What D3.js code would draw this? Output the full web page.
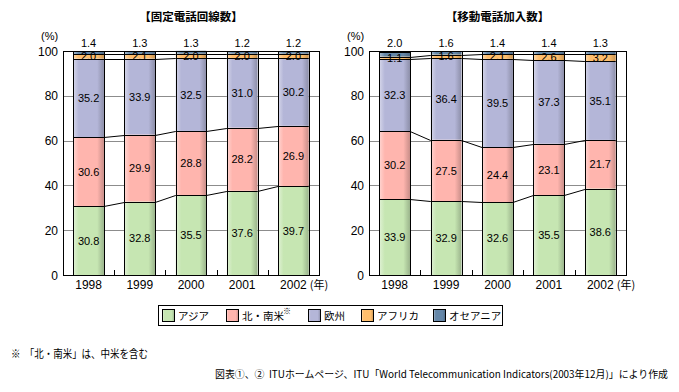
<!DOCTYPE html>
<html><head><meta charset="utf-8">
<script src="https://cdn.jsdelivr.net/npm/d3@7"></script>
<style>body{margin:0;background:#fff}svg{display:block}</style>
</head><body><svg id="c" width="679" height="392"></svg>
<script>
const years = ["1998","1999","2000","2001","2002"];
const regions = ["アジア","北・南米","欧州","アフリカ","オセアニア"];
const yTicks = [0,20,40,60,80,100];
// 固定電話回線数
const fixedAsia = [30.8,32.8,35.5,37.6,39.7];
const fixedAmericas = [30.6,29.9,28.8,28.2,26.9];
const fixedEurope = [35.2,33.9,32.5,31.0,30.2];
const fixedAfrica = [2.0,2.1,2.0,2.0,2.0];
const fixedOceania = [1.4,1.3,1.3,1.2,1.2];
// 移動電話加入数
const mobileAsia = [33.9,32.9,32.6,35.5,38.6];
const mobileAmericas = [30.2,27.5,24.4,23.1,21.7];
const mobileEurope = [32.3,36.4,39.5,37.3,35.1];
const mobileAfrica = [1.1,1.6,2.1,2.6,3.2];
const mobileOceania = [2.0,1.6,1.4,1.4,1.3];

const colors = ["#c6e6b2","#ffb5ae","#b4b6d8","#ffbe6c","#6587a8"];
const svg = d3.select("#c");
const FONT = "'Liberation Sans', Arial, sans-serif";
const JFONT = "'Noto Sans CJK JP', sans-serif";

const defs = svg.append("defs");
colors.forEach((c,i)=>{
  const g = defs.append("linearGradient").attr("id","g"+i).attr("x1","0").attr("x2","1").attr("y1","0").attr("y2","0");
  const light = d3.interpolateRgb(c,"#fff")(0.45);
  const dark = d3.interpolateRgb(c,"#000")(0.22);
  g.append("stop").attr("offset","0").attr("stop-color",light);
  g.append("stop").attr("offset","0.18").attr("stop-color",c);
  g.append("stop").attr("offset","0.78").attr("stop-color",c);
  g.append("stop").attr("offset","1").attr("stop-color",dark);
});

function chart(series, x0, x1, title) {
  const y = d3.scaleLinear().domain([0,100]).range([275,51]);
  const x = d3.scaleBand().domain(years).range([x0,x1]).paddingInner(0.4).paddingOuter(0.2);
  const g = svg.append("g");
  g.append("text").attr("x",(x0+x1)/2).attr("y",21).attr("text-anchor","middle")
    .attr("font-family",JFONT).attr("font-size",11.5).attr("font-weight","bold").text(title);
  g.append("text").attr("x",x0-22).attr("y",40).attr("text-anchor","start")
    .attr("font-family",FONT).attr("font-size",11).text("(%)");
  g.selectAll(".grid").data([20,40,60,80]).enter().append("line")
    .attr("x1",x0).attr("x2",x1).attr("y1",d=>Math.round(y(d))+0.5).attr("y2",d=>Math.round(y(d))+0.5)
    .attr("stroke","#8c8c8c").attr("stroke-width",1);
  g.selectAll(".yt").data(yTicks).enter().append("text")
    .attr("x",x0-5).attr("y",d=>y(d)+4.5).attr("text-anchor","end")
    .attr("font-family",FONT).attr("font-size",12).text(d=>d);
  const cum = series.map((s,k)=>years.map((_,i)=>{let t=0;for(let j=0;j<=k;j++)t+=series[j][i];return t;}));
  const bw = x.bandwidth();
  series.forEach((s,k)=>{
    g.selectAll(null).data(years).enter().append("rect")
      .attr("x",d=>x(d)).attr("width",bw)
      .attr("y",(d,i)=>y(cum[k][i])).attr("height",(d,i)=>y(cum[k][i]-s[i])-y(cum[k][i]))
      .attr("fill","url(#g"+k+")");
  });
  for (let k=0;k<series.length;k++){
    years.forEach((d,i)=>{
      const yy = Math.round(y(cum[k][i]))+0.5;
      g.append("line").attr("x1",x(d)).attr("x2",x(d)+bw).attr("y1",yy).attr("y2",yy).attr("stroke","#000");
      if(i<years.length-1 && k<series.length-1){
        const yn = Math.round(y(cum[k][i+1]))+0.5;
        g.append("line").attr("x1",x(d)+bw).attr("x2",x(years[i+1])).attr("y1",yy).attr("y2",yn).attr("stroke","#000");
      }
    });
  }
  years.forEach((d,i)=>{
    const top = Math.round(y(cum[series.length-1][i]));
    [x(d), x(d)+bw].forEach(xx=>{
      g.append("line").attr("x1",Math.round(xx)+0.5).attr("x2",Math.round(xx)+0.5)
        .attr("y1",top).attr("y2",275).attr("stroke","#000");
    });
  });
  g.append("rect").attr("x",x0+0.5).attr("y",Math.round(y(100))+0.5).attr("width",x1-x0).attr("height",y(0)-Math.round(y(100)))
    .attr("fill","none").attr("stroke","#000");
  years.slice(1).forEach(d=>{
    const xx = Math.round(x(d) - x.step()*x.paddingInner()/2 )+0.5;
    g.append("line").attr("x1",xx).attr("x2",xx).attr("y1",275).attr("y2",270).attr("stroke","#000");
  });
  g.selectAll(".xl").data(years).enter().append("text")
    .attr("x",d=>x(d)+bw/2).attr("y",289).attr("text-anchor","middle")
    .attr("font-family",FONT).attr("font-size",12).text(d=>d);
  g.append("text").attr("x",x(years[4])+bw+1).attr("y",289).attr("font-family",JFONT).attr("font-size",11).text("(年)");
  for (let k=0;k<4;k++){
    g.selectAll(null).data(years).enter().append("text")
      .attr("x",d=>x(d)+bw/2).attr("y",(d,i)=>y(cum[k][i]-series[k][i]/2)+4)
      .attr("text-anchor","middle").attr("font-family",FONT).attr("font-size",11)
      .text((d,i)=>series[k][i].toFixed(1));
  }
  g.selectAll(null).data(years).enter().append("text")
    .attr("x",d=>x(d)+bw/2).attr("y",47)
    .attr("text-anchor","middle").attr("font-family",FONT).attr("font-size",11)
    .text((d,i)=>series[4][i].toFixed(1));
}

chart([fixedAsia,fixedAmericas,fixedEurope,fixedAfrica,fixedOceania],63,319,"【固定電話回線数】");
chart([mobileAsia,mobileAmericas,mobileEurope,mobileAfrica,mobileOceania],369,626,"【移動電話加入数】");

const lg = svg.append("g");
lg.append("rect").attr("x",158.5).attr("y",305.5).attr("width",344).attr("height",20).attr("fill","#fff").attr("stroke","#000");
const lx = [162,226,308,361,433];
regions.forEach((r,i)=>{
  lg.append("rect").attr("x",lx[i]+0.5).attr("y",309.5).attr("width",12).attr("height",12)
    .attr("fill","url(#g"+i+")").attr("stroke","#000");
  lg.append("text").attr("x",lx[i]+16).attr("y",320).attr("font-family",JFONT).attr("font-size",10.5)
    .text(r);
});
lg.append("text").attr("x",283).attr("y",314).attr("font-family",JFONT).attr("font-size",8).text("※");

svg.append("text").attr("x",11).attr("y",358).attr("font-family",JFONT).attr("font-size",11)
  .attr("textLength",137).attr("lengthAdjust","spacingAndGlyphs")
  .attr("xml:space","preserve").text("※  「北・南米」は、中米を含む");
svg.append("text").attr("x",215).attr("y",378).attr("font-family",JFONT).attr("font-size",10)
  .attr("textLength",453).attr("lengthAdjust","spacingAndGlyphs")
  .attr("xml:space","preserve").text("図表①、②  ITUホームページ、ITU「World Telecommunication Indicators(2003年12月)」により作成");
</script></body></html>
